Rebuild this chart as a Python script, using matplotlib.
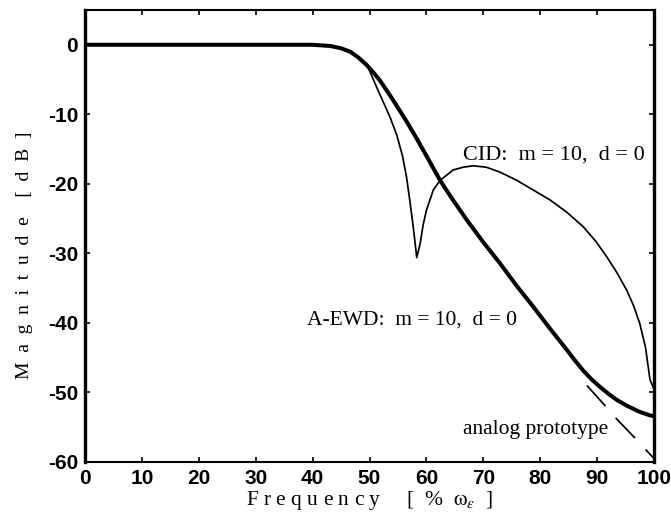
import matplotlib
matplotlib.use("Agg")
import matplotlib.pyplot as plt

plt.rcParams["mathtext.fontset"] = "stix"

# A-EWD: m = 10, d = 0 (thick)
f_ewd = [0, 40, 43.1, 45, 46.6, 48, 49.5, 50.7, 51.8, 53.3, 54.8, 56.5,
         58.3, 60.3, 62.4, 64.4, 67.1, 70, 72.9, 75.8, 78.8, 81.8, 84.7,
         86, 87.5, 89, 90.5, 92, 93.5, 95.2, 97.5, 99.3, 100]
mag_ewd = [0, 0, -0.17, -0.5, -1.0, -1.8, -2.9, -4.0, -5.1, -6.9, -8.8,
           -11.0, -13.5, -16.4, -19.5, -22.0, -25.2, -28.4, -31.4, -34.6,
           -37.7, -40.9, -43.9, -45.3, -46.8, -48.1, -49.2, -50.2, -51.1,
           -51.9, -52.8, -53.3, -53.4]

# CID: m = 10, d = 0 (thin)
f_cid = [0, 40, 43.1, 45, 46.6, 48, 49.5, 50.1, 51.2, 52.4, 53.6, 54.8,
         55.8, 56.5, 57.1, 57.7, 58.3, 58.9, 59.4, 60.0, 61.2, 62.4, 64.7,
         66.5, 68.2, 70.5, 72.9, 75.9, 78.8, 81.7, 84.7, 87.6, 89.8, 91.7,
         93.5, 95.2, 96.4, 97.5, 98.5, 99.3, 100]
mag_cid = [0, 0, -0.17, -0.5, -1.0, -1.8, -2.9, -3.9, -6.0, -8.2, -10.4,
           -13.0, -16.0, -19.0, -22.5, -26.3, -30.6, -28.6, -26.0, -23.8,
           -20.9, -19.5, -18.0, -17.6, -17.4, -17.6, -18.3, -19.5, -20.9,
           -22.3, -24.1, -26.2, -28.3, -30.5, -32.8, -35.3, -37.5, -40.1,
           -43.5, -48.2, -49.5]

# analog prototype (dashed, only where it departs from A-EWD)
f_ana = [88.2, 91.4, 93.3, 96.7, 100]
mag_ana = [-49.0, -51.9, -53.7, -56.6, -59.5]

xticks = [0, 10, 20, 30, 40, 50, 60, 70, 80, 90, 100]
yticks = [0, -10, -20, -30, -40, -50, -60]

fig = plt.figure(figsize=(6.71, 5.14), dpi=100)
ax = fig.add_axes([0.1267, 0.1012, 0.848, 0.8793])

ax.plot(f_cid, mag_cid, color="black", linewidth=1.25, zorder=2)
ax.plot(f_ana, mag_ana, color="black", linewidth=1.25, dashes=(16, 9),
        zorder=2)
ax.plot(f_ewd, mag_ewd, color="black", linewidth=2.9, zorder=3,
        solid_capstyle="butt")

serif = "Liberation Serif"
ax.text(66.4, -15.9, "CID:  m = 10,  d = 0", family=serif, fontsize=16,
        ha="left", va="center")
ax.text(39.0, -39.6, "A-EWD:  m = 10,  d = 0", family=serif, fontsize=15.5,
        ha="left", va="center")
ax.text(66.4, -55.3, "analog prototype", family=serif, fontsize=15.5,
        ha="left", va="center")

ax.set_xlim(0, 100)
ax.set_ylim(-60, 5)
ax.set_xticks(xticks)
ax.set_yticks(yticks)
ax.set_xticklabels([str(t) for t in xticks], family="Liberation Sans",
                   fontsize=15, fontweight="bold")
ax.set_yticklabels([str(t) for t in yticks], family="Liberation Sans",
                   fontsize=15, fontweight="bold")
ax.tick_params(direction="in", top=True, right=True, length=3.6, width=1.2,
               pad=5)

for s in ["left", "right"]:
    ax.spines[s].set_linewidth(2.4)
for s in ["top", "bottom"]:
    ax.spines[s].set_linewidth(1.5)

ax.set_xlabel("F r e q u e n c y     [  %  $\\mathrm{\\omega}_{\\varepsilon}$  ]",
              family=serif, fontsize=15.5, labelpad=1)
ax.set_ylabel("M  a  g  n  i  t  u  d  e    [  d  B  ]", family=serif,
              fontsize=14)
ax.yaxis.set_label_coords(-0.091, 0.458)

fig.savefig("out.png", dpi=100)
